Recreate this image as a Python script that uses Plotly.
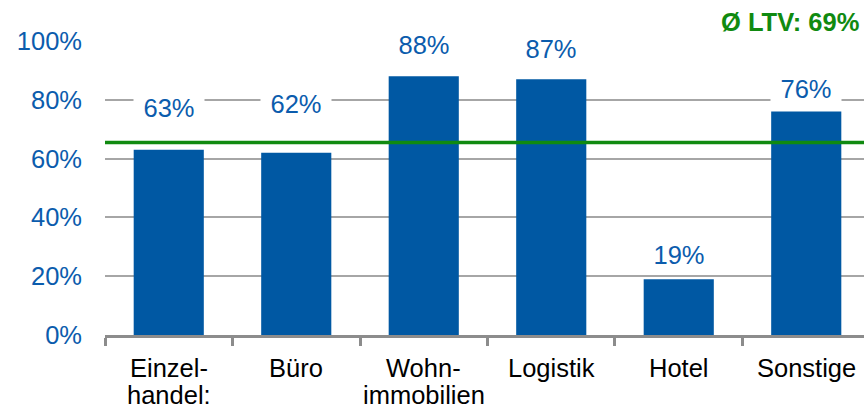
import plotly.graph_objects as go

# LTV by property type
categories = ["Einzel-<br>handel:", "Büro", "Wohn-<br>immobilien", "Logistik", "Hotel", "Sonstige"]
ltv_values = [63, 62, 88, 87, 19, 76]
value_labels = ["63%", "62%", "88%", "87%", "19%", "76%"]
average_line = 65.5
average_text = "Ø LTV: 69%"
y_ticks = [0, 20, 40, 60, 80, 100]
y_tick_labels = ["0%", "20%", "40%", "60%", "80%", "100%"]

# label lift above each bar top, in pixels
label_lift = [42, 49, 31, 30, 24, 23]
# category label lines: offset of first line below the axis and line pitch, in pixels
CAT_FIRST = 33
CAT_PITCH = 27

BLUE = "#0058A3"
TEXT_BLUE = "#0B5CAD"
GREEN = "#108A10"
GRID = "#A6A6A6"
AXIS = "#8C8C8C"
FONT = "Arial, Liberation Sans, sans-serif"
FS = 25.5

fig = go.Figure()
fig.add_trace(go.Bar(
    x=categories, y=ltv_values, width=0.55,
    marker=dict(color=BLUE, line=dict(width=0)),
    hoverinfo="skip",
))

# average line drawn over the bars
fig.add_shape(type="line", xref="paper", yref="y", x0=0, x1=1,
              y0=average_line, y1=average_line,
              line=dict(color=GREEN, width=3.5), layer="above")

# value labels with white boxes breaking the gridlines
for cat, v, t, lift in zip(categories, ltv_values, value_labels, label_lift):
    fig.add_annotation(x=cat, y=v, xref="x", yref="y", text=t, showarrow=False,
                       yshift=lift, yanchor="middle", width=70, height=26,
                       bgcolor="white", borderpad=0,
                       font=dict(family=FONT, size=FS, color=TEXT_BLUE))

# category names under the axis, one annotation per line for tighter spacing
for cat in categories:
    for k, line in enumerate(cat.split("<br>")):
        fig.add_annotation(x=cat, y=0, xref="x", yref="paper", text=line,
                           showarrow=False, yanchor="middle",
                           yshift=-(CAT_FIRST + k * CAT_PITCH),
                           font=dict(family=FONT, size=FS, color="#000000"))

fig.add_annotation(xref="paper", yref="paper", x=1, y=1.0645, xanchor="right",
                   yanchor="middle", xshift=-3, text=f"<b>{average_text}</b>",
                   showarrow=False, font=dict(family=FONT, size=FS, color=GREEN))

fig.update_layout(
    width=864, height=408,
    margin=dict(l=105, r=0, t=41, b=72.5),
    paper_bgcolor="white", plot_bgcolor="white",
    showlegend=False,
    font=dict(family=FONT, size=FS, color="#000000"),
)
fig.update_xaxes(
    type="category", range=[-0.5, 5.453], automargin=False, showticklabels=False,
    tickson="boundaries", ticks="outside", ticklen=8, tickwidth=2.5, tickcolor=AXIS,
    showline=True, linecolor=AXIS, linewidth=3, showgrid=False,
)
fig.update_yaxes(
    range=[0, 100], tickmode="array", tickvals=y_ticks, ticktext=y_tick_labels,
    automargin=False,
    showgrid=True, gridcolor=GRID, gridwidth=2, zeroline=False, showline=False,
    ticks="", tickfont=dict(family=FONT, size=FS, color=TEXT_BLUE), ticklabelstandoff=22,
)

fig.write_html("out.html")
